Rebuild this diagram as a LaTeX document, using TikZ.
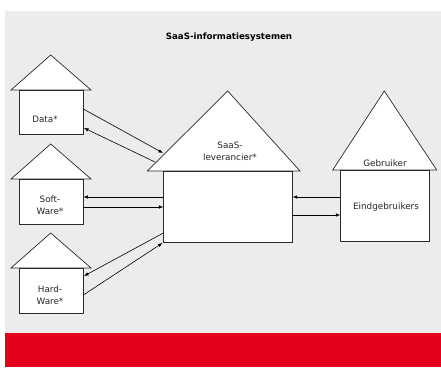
\documentclass[tikz,border=0pt]{standalone}
\usepackage{fontspec}
\setmainfont{DejaVu Sans}
\usetikzlibrary{arrows.meta}
\definecolor{bggray}{HTML}{EBECEB}
\definecolor{bandred}{HTML}{E2001A}
\definecolor{lineclr}{HTML}{2A2A2A}
\tikzset{
  roof/.style={draw=lineclr, fill=white, line width=0.7pt, line join=miter},
  body/.style={draw=lineclr, fill=white, line width=0.7pt, rectangle, inner sep=0pt},
  lbl/.style={font=\fontsize{8.8}{12}\selectfont, text=black!85, align=center, inner sep=0pt},
  flow/.style={draw=black, line width=0.6pt, -{Latex[length=4.5pt,width=3.5pt]}}
}
\begin{document}
\begin{tikzpicture}[x=1pt,y=-1pt]
\useasboundingbox (0,0) rectangle (441,367);
\fill[white] (0,0) rectangle (441,367);
\fill[bggray] (5,11) rectangle (441,333);
\fill[bandred] (5,333) rectangle (441,367);

\node[font=\fontsize{8.7}{10}\selectfont\bfseries, inner sep=0pt] (title) at (229,37) {SaaS-informatiesystemen};

% Data house
\draw[roof] (11,90) -- (50.7,55) -- (91,90) -- cycle;
\node[body, minimum width=64pt, minimum height=44pt] (data) at (51,112) {};
\node[lbl] (datal) at (45,119) {Data*};

% Soft house
\draw[roof] (11,179) -- (50.7,144) -- (91,179) -- cycle;
\node[body, minimum width=64pt, minimum height=45pt] (soft) at (51,201.5) {};
\node[lbl] (softl) at (50,205) {Soft-\\Ware*};

% Hard house
\draw[roof] (11,268) -- (50.7,233) -- (91,268) -- cycle;
\node[body, minimum width=64pt, minimum height=45pt] (hard) at (51,290.5) {};
\node[lbl] (hardl) at (50,295) {Hard-\\Ware*};

% SaaS house
\draw[roof] (147.3,171) -- (227.7,91) -- (300,171) -- cycle;
\node[body, minimum width=128.6pt, minimum height=71pt] (saas) at (228,206.5) {};
\node[lbl] (saasl) at (230,151.5) {SaaS-\\leverancier*};

% Gebruiker house
\draw[roof] (332.7,170) -- (384.3,91) -- (436.7,170) -- cycle;
\node[body, minimum width=88.3pt, minimum height=71.7pt] (geb) at (384.85,205.85) {};
\node[lbl] (gebl) at (385,163) {Gebruiker};
\node[lbl] (eindl) at (386,207) {Eindgebruikers};

% connector end points
\coordinate (d1) at (data.east |- 0,109);
\coordinate (s1) at (163,153);
\coordinate (s2) at (155,162);
\coordinate (d2) at (84,128);
\coordinate (s3) at (saas.west |- 0,197);
\coordinate (f1) at (soft.east |- 0,197);
\coordinate (f2) at (soft.east |- 0,207);
\coordinate (s4) at (saas.west |- 0,207);
\coordinate (s5) at (saas.west |- 0,233);
\coordinate (h1) at (84,276);
\coordinate (h2) at (hard.east |- 0,295);
\coordinate (s6) at (162.5,243);
\coordinate (g1) at (geb.west |- 0,197);
\coordinate (s7) at (saas.east |- 0,197);
\coordinate (s8) at (saas.east |- 0,215);
\coordinate (g2) at (geb.west |- 0,215);

\draw[flow] (d1) -- (s1);
\draw[flow] (s2) -- (d2);
\draw[flow] (s3) -- (f1);
\draw[flow] (f2) -- (s4);
\draw[flow] (s5) -- (h1);
\draw[flow] (h2) -- (s6);
\draw[flow] (g1) -- (s7);
\draw[flow] (s8) -- (g2);
\end{tikzpicture}
\end{document}
